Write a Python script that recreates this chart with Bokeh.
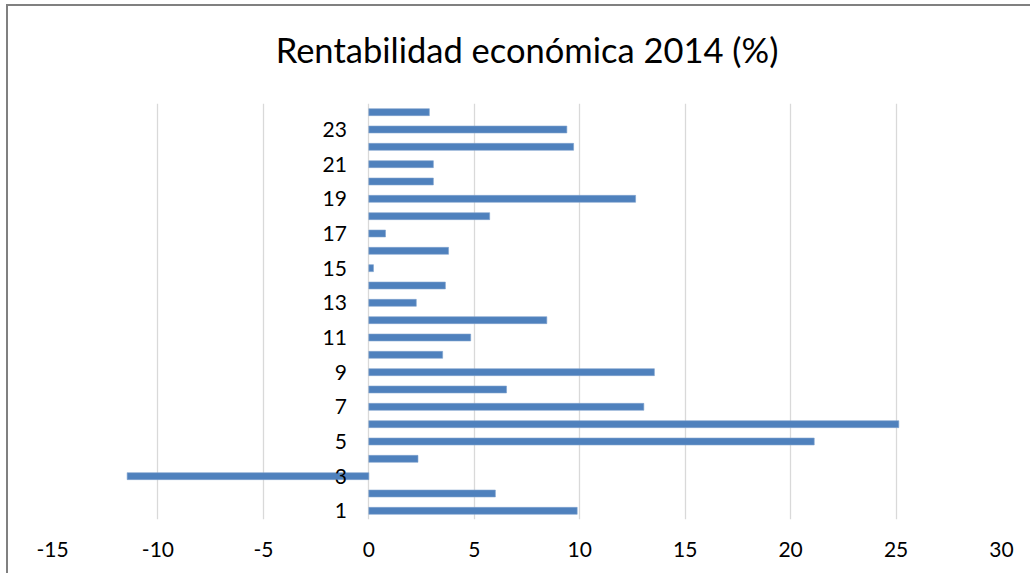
from bokeh.plotting import figure
from bokeh.models import Range1d, FixedTicker, Title
from bokeh.core.properties import value
from bokeh.embed import file_html
from bokeh.resources import INLINE

# ---- data ----
categories = list(range(1, 25))
values = [9.88, 6.0, -11.46, 2.33, 21.12, 25.13, 13.04, 6.53, 13.54, 3.5,
          4.83, 8.44, 2.25, 3.63, 0.22, 3.78, 0.79, 5.73, 12.65, 3.06,
          3.06, 9.71, 9.39, 2.87]
x_ticks = [-15, -10, -5, 0, 5, 10, 15, 20, 25, 30]
y_label_cats = [1, 3, 5, 7, 9, 11, 13, 15, 17, 19, 21, 23]
title_text = "Rentabilidad económica 2014 (%)"

FONT = "Lato"

x0, x1 = x_ticks[0], x_ticks[-1]
y0, y1 = categories[0] - 0.5, categories[-1] + 0.5

p = figure(width=1024, height=569, output_backend="svg", toolbar_location=None,
           x_range=Range1d(x0, x1), y_range=Range1d(y0, y1),
           min_border_left=44, min_border_right=31, min_border_bottom=56,
           min_border_top=97, title=None,
           styles={"margin-left": "6px", "margin-top": "4px",
                   "border-left": "2px solid #808080",
                   "border-top": "2px solid #808080"})

p.outline_line_color = None
p.background_fill_color = "white"
p.border_fill_color = "white"

p.hbar(y=categories, right=values, left=0, height=0.4,
       fill_color="#4F81BD", line_color="#7FA2CF", line_width=0.6)

p.yaxis.visible = False
p.ygrid.grid_line_color = None

xa = p.below[0]
p.xgrid.grid_line_color = "#D9D9D9"
p.xgrid.grid_line_width = 1.3
xa.ticker = FixedTicker(ticks=x_ticks)
xa.major_label_overrides = {t: str(t) for t in x_ticks}
xa.axis_line_color = None
xa.major_tick_line_color = None
xa.minor_tick_line_color = None
xa.major_label_text_font = FONT
xa.major_label_text_font_size = "21px"
xa.major_label_text_color = "#000000"
xa.major_label_standoff = 16

# small spacer between the title and the plot area
spacer = Title(text=" ", text_font_size="1px", standoff=14, text_color="white")
p.add_layout(spacer, "above")

title = Title(text=title_text, align="center", text_font=FONT,
              text_font_size="34.5px", text_font_style="normal",
              text_color="#000000", standoff=34)
p.add_layout(title, "above")

p.text(x=[0] * len(y_label_cats), y=y_label_cats,
       text=[str(c) for c in y_label_cats],
       x_offset=-22, text_align="right", text_baseline="middle",
       text_font=value(FONT), text_font_size="21px", text_color="#000000")

open("out.html", "w").write(file_html(p, INLINE))
